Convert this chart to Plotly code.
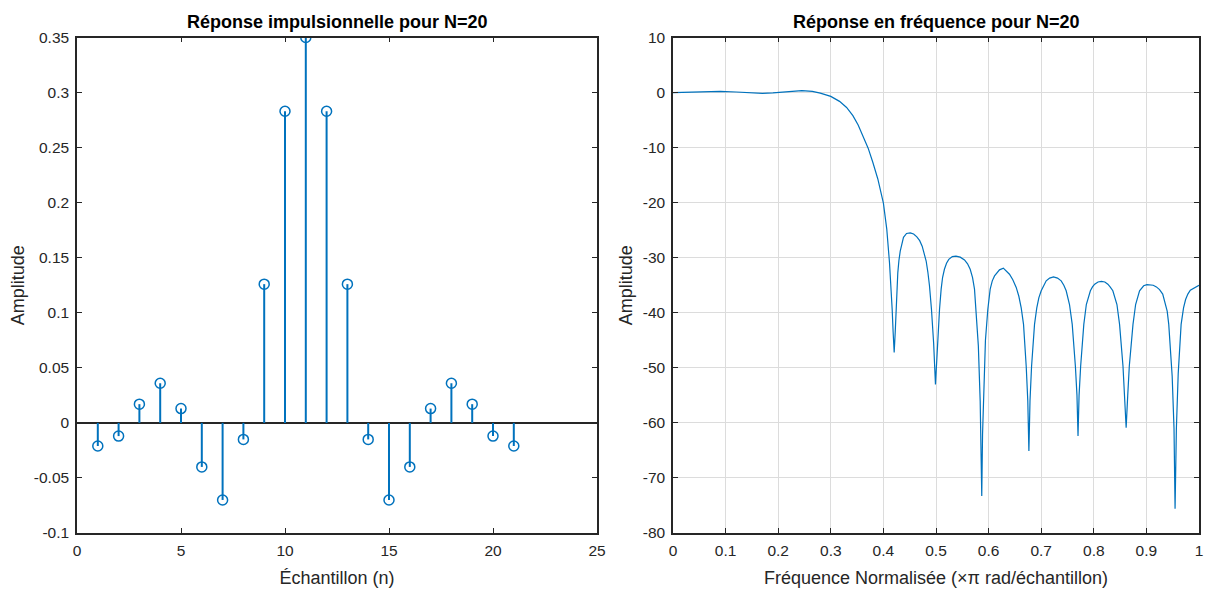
import plotly.graph_objects as go

# ---------------- data ----------------
n_samples = list(range(1, 22))
h_values = [-0.021, -0.012, 0.017, 0.036, 0.013, -0.040, -0.070, -0.015, 0.126, 0.283, 0.350,
            0.283, 0.126, -0.015, -0.070, -0.040, 0.013, 0.036, 0.017, -0.012, -0.021]

# frequency response (normalised frequency, dB)
freq = [
    0.0, 0.03, 0.06, 0.09, 0.12, 0.15, 0.17, 0.19, 0.22, 0.245, 0.265, 0.28, 0.30, 0.3166,
    0.33, 0.342, 0.352, 0.361, 0.371, 0.380, 0.3894, 0.4, 0.4064, 0.4116, 0.4148, 0.4167,
    0.4185, 0.4205, 0.4225, 0.4243, 0.4255, 0.4274, 0.4295, 0.432, 0.4382, 0.444, 0.451,
    0.4575, 0.4636, 0.469, 0.4737, 0.4775, 0.4813, 0.4845, 0.4876, 0.4914,
    0.4955, 0.499, 0.5025, 0.5067, 0.5098, 0.5125, 0.516, 0.520, 0.5243, 0.531, 0.538,
    0.546, 0.5542, 0.560, 0.565, 0.5695, 0.5732, 0.5763,
    0.5805, 0.584, 0.5855, 0.587, 0.5885, 0.590, 0.594, 0.5985, 0.603, 0.607, 0.6113,
    0.6207, 0.628, 0.6397, 0.646, 0.6525, 0.6575, 0.662, 0.6664,
    0.6715, 0.6745, 0.6766, 0.6787, 0.6817, 0.6873, 0.6916, 0.6955, 0.70, 0.7045, 0.7095,
    0.716, 0.7234, 0.731, 0.738, 0.743, 0.7475, 0.7538, 0.759,
    0.765, 0.768, 0.770, 0.772, 0.775, 0.781, 0.7858, 0.7935, 0.7975, 0.8017, 0.808,
    0.8144, 0.821, 0.8267, 0.831, 0.8362, 0.844, 0.849,
    0.8555, 0.8585, 0.8615, 0.8645, 0.8675, 0.8745, 0.8795, 0.887, 0.8948, 0.901, 0.9074,
    0.913, 0.919, 0.925, 0.931, 0.9395, 0.9425,
    0.949, 0.9525, 0.9545, 0.957, 0.9605, 0.966, 0.9706, 0.9745, 0.9788, 0.9835, 0.9884,
    0.994, 1.0,
]
mag_db = [
    0.0, 0.08, 0.18, 0.22, 0.1, -0.1, -0.15, -0.05, 0.2, 0.35, 0.2, -0.1, -0.7, -1.6,
    -2.7, -4.2, -5.9, -7.85, -10.1, -12.7, -15.7, -20.1, -24.8, -30.9, -35.7, -39.4,
    -43.5, -47.2, -43.5, -39.4, -36.0, -32.7, -30.5, -28.8, -26.3, -25.6, -25.5,
    -25.7, -26.2, -26.9, -27.9, -29.1, -30.6, -32.6, -35.1, -39.4,
    -45.5, -53.0, -45.5, -39.4, -35.7, -33.6, -32.1, -31.0, -30.3, -29.8, -29.7,
    -29.9, -30.4, -31.1, -32.1, -33.6, -35.7, -39.4,
    -46.0, -56.0, -62.0, -73.3, -62.0, -56.0, -45.0, -39.4, -35.7, -34.2, -33.3,
    -32.2, -31.9, -33.0, -34.0, -35.4, -37.0, -39.1, -42.1,
    -49.7, -56.0, -65.1, -56.0, -49.7, -42.1, -39.1, -37.3, -36.0, -35.0, -34.2,
    -33.7, -33.5, -33.7, -34.2, -35.0, -36.0, -38.5, -42.1,
    -49.7, -55.0, -62.4, -55.0, -49.7, -42.1, -38.5, -36.0, -35.3, -34.8, -34.4,
    -34.3, -34.4, -34.8, -35.3, -36.0, -38.5, -42.1,
    -49.7, -55.0, -60.9, -55.0, -49.7, -42.1, -38.5, -36.0, -35.1, -34.9, -34.9,
    -35.0, -35.3, -35.8, -36.6, -39.7, -42.1,
    -51.5, -61.0, -75.6, -61.0, -51.0, -42.1, -39.1, -37.6, -36.6, -35.9, -35.6,
    -35.3, -35.0,
]

left_xticks = [0, 5, 10, 15, 20, 25]
left_yticks = [-0.1, -0.05, 0, 0.05, 0.1, 0.15, 0.2, 0.25, 0.3, 0.35]
left_yticktext = ["-0.1", "-0.05", "0", "0.05", "0.1", "0.15", "0.2", "0.25", "0.3", "0.35"]
right_xticks = [0, 0.1, 0.2, 0.3, 0.4, 0.5, 0.6, 0.7, 0.8, 0.9, 1]
right_xticktext = ["0", "0.1", "0.2", "0.3", "0.4", "0.5", "0.6", "0.7", "0.8", "0.9", "1"]
right_yticks = [10, 0, -10, -20, -30, -40, -50, -60, -70, -80]
right_yticktext = ["10", "0", "-10", "-20", "-30", "-40", "-50", "-60", "-70", "-80"]

title_left = "Réponse impulsionnelle pour N=20"
title_right = "Réponse en fréquence pour N=20"
xlabel_left = "Échantillon (n)"
xlabel_right = "Fréquence Normalisée (×π rad/échantillon)"
ylabel = "Amplitude"

# ---------------- figure ----------------
W, H = 1208, 599
BLUE = "#0072BD"
AX = "#262626"
FONT = "Liberation Sans, Arial, sans-serif"

stem_x, stem_y = [], []
for n, v in zip(n_samples, h_values):
    stem_x += [n, n, None]
    stem_y += [0, v, None]

fig = go.Figure()
fig.add_trace(go.Scatter(x=stem_x, y=stem_y, mode="lines",
                         line=dict(color=BLUE, width=2), xaxis="x", yaxis="y",
                         hoverinfo="skip", showlegend=False))
fig.add_trace(go.Scatter(x=n_samples, y=h_values, mode="markers",
                         marker=dict(symbol="circle-open", size=10, color=BLUE,
                                     line=dict(width=1.5, color=BLUE)),
                         xaxis="x", yaxis="y", showlegend=False))
fig.add_trace(go.Scatter(x=freq, y=mag_db, mode="lines",
                         line=dict(color=BLUE, width=1.2),
                         xaxis="x2", yaxis="y2", showlegend=False))

def px_x(p):
    return p / W

def px_y(p):
    return 1 - p / H

top, bot = 37.5, 533
axis_common = dict(showline=True, linecolor=AX, linewidth=1.5, mirror="ticks",
                   ticks="inside", ticklen=5, tickwidth=1.2, tickcolor=AX,
                   automargin=False, ticklabelstandoff=3,
                   tickfont=dict(family=FONT, size=15.5, color=AX))
title_font = dict(family=FONT, size=18, color=AX)

fig.update_layout(
    width=W, height=H, margin=dict(l=0, r=0, t=0, b=0, pad=0, autoexpand=False),
    paper_bgcolor="white", plot_bgcolor="white", showlegend=False,
    xaxis=dict(domain=[px_x(77), px_x(597)], range=[0, 25], tickvals=left_xticks,
               showgrid=False, zeroline=False, anchor="y",
               title=dict(text=xlabel_left, font=title_font, standoff=13),
               **axis_common),
    yaxis=dict(domain=[px_y(bot), px_y(top)], range=[-0.1, 0.35], tickvals=left_yticks,
               ticktext=left_yticktext, showgrid=False, zeroline=True,
               zerolinecolor=AX, zerolinewidth=1.5, anchor="x",
               title=dict(text=ylabel, font=title_font, standoff=5),
               **axis_common),
    xaxis2=dict(domain=[px_x(673), px_x(1199)], range=[0, 1], tickvals=right_xticks,
                ticktext=right_xticktext, showgrid=True, gridcolor="#dcdcdc", gridwidth=1,
                zeroline=False, anchor="y2",
                title=dict(text=xlabel_right, font=title_font, standoff=13),
                **axis_common),
    yaxis2=dict(domain=[px_y(bot), px_y(top)], range=[-80, 10], tickvals=right_yticks,
                ticktext=right_yticktext, showgrid=True, gridcolor="#dcdcdc", gridwidth=1,
                zeroline=False, anchor="x2",
                title=dict(text=ylabel, font=title_font, standoff=5),
                **axis_common),
    annotations=[
        dict(text="<b>" + title_left + "</b>", x=(px_x(77) + px_x(597)) / 2, y=px_y(22),
             xref="paper", yref="paper", showarrow=False, xanchor="center", yanchor="middle",
             font=dict(family=FONT, size=18, color="black")),
        dict(text="<b>" + title_right + "</b>", x=(px_x(673) + px_x(1199)) / 2, y=px_y(22),
             xref="paper", yref="paper", showarrow=False, xanchor="center", yanchor="middle",
             font=dict(family=FONT, size=18, color="black")),
    ],
)

fig.write_html("out.html")
